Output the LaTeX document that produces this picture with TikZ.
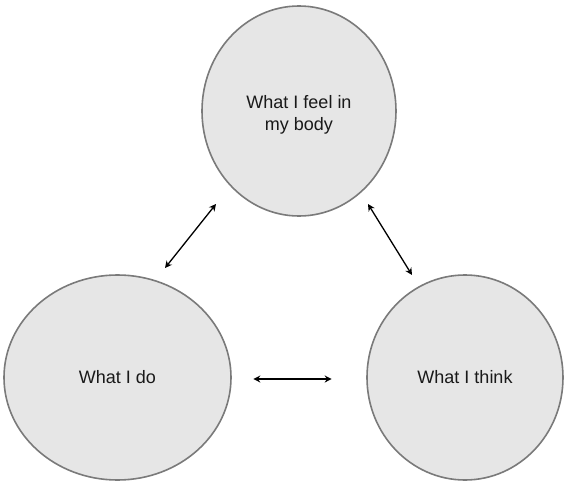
\documentclass[tikz,border=0pt]{standalone}
\usepackage{fontspec}
\setmainfont{Liberation Sans}
\usetikzlibrary{shapes.geometric,arrows.meta}
\definecolor{bubblefill}{HTML}{E6E6E6}
\definecolor{bubbleline}{HTML}{7A7A7A}
\tikzset{
  bubble/.style={ellipse, draw=bubbleline, line width=1.6pt, fill=bubblefill, inner sep=0pt,
    align=center, font=\fontsize{18}{21.5}\selectfont, text=black!90},
  bubbletext/.style={align=center, inner sep=0pt, font=\fontsize{18}{21.5}\selectfont, text=black!90},
  link/.style={line width=1.3pt, black, {Stealth[length=7pt,width=7pt]}-{Stealth[length=7pt,width=7pt]}}
}
\begin{document}
\begin{tikzpicture}[x=1pt,y=-1pt]
\useasboundingbox (0,0) rectangle (566,482);
\node[bubble, minimum width=194pt, minimum height=210pt] (body) at (299,111) {};
\node[bubbletext] (bodytext) at (299,115) {What I feel in\\my body};
\node[bubble, minimum width=227pt, minimum height=205pt] (do) at (117.5,377.5) {What I do};
\node[bubble, minimum width=196pt, minimum height=205pt] (think) at (465,377.5) {What I think};
\coordinate (a1) at (216,204);
\coordinate (a2) at (165,268);
\coordinate (b1) at (368,204);
\coordinate (b2) at (412,275);
\coordinate (c1) at (253.3,379);
\coordinate (c2) at (331.7,379);
\draw[link] (a1) -- (a2);
\draw[link] (b1) -- (b2);
\draw[link] (c1) -- (c2);
\end{tikzpicture}
\end{document}
